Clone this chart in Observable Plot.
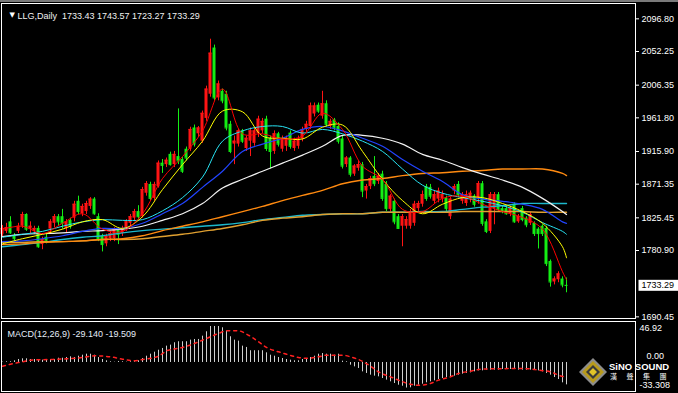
<!DOCTYPE html>
<html><head><meta charset="utf-8">
<script src="https://cdn.jsdelivr.net/npm/d3@7"></script>
<script src="https://cdn.jsdelivr.net/npm/@observablehq/plot@0.6"></script>
<style>
html,body{margin:0;padding:0;background:#000;overflow:hidden;}
#wrap{position:relative;width:678px;height:393px;background:#000;overflow:hidden;}
#wrap > svg{position:absolute;left:0;}
.topbar{position:absolute;left:0;top:0;width:678px;height:2px;background:#7a7a7a;}
</style></head><body><div id="wrap"><div class="topbar"></div></div>
<script>
// ---------- DATA ----------
const symbolTitle = "LLG,Daily";
const ohlcTitle = "1733.43 1743.57 1723.27 1733.29";
const macdTitle = "MACD(12,26,9) -29.140 -19.509";

const open = [1803,1807,1820,1801,1807,1814,1830,1810,1807,1811,
1789,1799,1810,1818,1827,1827,1811,1822,1825,1848,
1831,1834,1841,1851,1827,1800,1790,1797,1797,1810,
1804,1811,1818,1825,1834,1827,1859,1871,1852,1868,
1900,1898,1912,1898,1909,1905,1919,1919,1948,1940,
1930,1961,1994,2057,1989,1998,1994,1953,1926,1926,
1944,1920,1930,1927,1940,1944,1960,1934,1916,1940,
1919,1923,1941,1920,1923,1933,1946,1950,1967,1979,
1964,1981,1950,1959,1950,1933,1898,1907,1885,1893,
1898,1862,1868,1882,1875,1885,1871,1837,1848,1827,
1814,1814,1814,1818,1838,1844,1868,1867,1848,1851,
1851,1852,1827,1862,1871,1848,1845,1851,1855,1852,
1872,1820,1807,1838,1857,1838,1838,1831,1844,1820,
1838,1825,1818,1818,1810,1814,1811,1766,1738,1741,
1742,1733.43];
const high = [1815,1818,1827,1804,1818,1833,1831,1820,1814,1814,
1799,1803,1823,1830,1830,1837,1823,1825,1848,1855,
1844,1848,1853,1853,1831,1803,1803,1807,1812,1812,
1814,1823,1830,1837,1842,1867,1875,1874,1874,1903,
1905,1907,1915,1916,1974,1908,1922,1949,1952,1950,
1971,2005,2069,2061,2012,2001,1998,1957,1937,1946,
1946,1937,1948,1948,1964,1961,1964,1937,1944,1942,
1937,1937,1944,1934,1937,1949,1957,1982,1982,1982,
1998,1985,1960,1961,1955,1937,1909,1909,1898,1903,
1901,1871,1882,1909,1886,1889,1875,1857,1851,1830,
1830,1827,1837,1848,1848,1862,1871,1871,1862,1866,
1862,1855,1853,1871,1875,1860,1862,1862,1857,1875,
1875,1823,1860,1860,1860,1841,1841,1841,1846,1830,
1841,1827,1833,1820,1812,1816,1814,1768,1745,1752,
1745,1743.57];
const low = [1799,1804,1803,1794,1804,1811,1807,1804,1803,1784,
1782,1790,1804,1812,1814,1810,1805,1810,1820,1830,
1827,1830,1837,1829,1793,1779,1786,1793,1793,1789,
1800,1807,1814,1820,1823,1825,1855,1849,1848,1866,
1886,1894,1896,1894,1898,1886,1903,1916,1922,1935,
1927,1957,1990,1985,1985,1981,1944,1913,1898,1922,
1927,1916,1909,1923,1935,1940,1916,1892,1912,1922,
1915,1916,1919,1916,1919,1929,1942,1946,1963,1968,
1960,1949,1946,1944,1926,1892,1894,1881,1882,1889,
1853,1851,1864,1868,1871,1848,1834,1833,1816,1810,
1786,1810,1810,1814,1834,1840,1848,1851,1844,1846,
1846,1834,1823,1857,1853,1844,1841,1846,1840,1844,
1814,1804,1804,1816,1834,1831,1829,1827,1818,1818,
1820,1812,1815,1800,1783,1800,1759,1731,1734,1737,
1730,1723.27];
const close = [1811,1812,1805,1797,1814,1830,1810,1814,1811,1786,
1796,1794,1820,1827,1820,1818,1820,1814,1844,1834,
1841,1845,1851,1831,1796,1789,1800,1804,1810,1803,
1810,1820,1827,1834,1827,1864,1872,1852,1871,1900,
1897,1904,1898,1912,1903,1889,1907,1946,1926,1948,
1968,2001,2050,1989,2008,1985,1948,1916,1930,1944,
1930,1934,1944,1944,1960,1957,1920,1916,1940,1926,
1933,1934,1923,1930,1933,1946,1953,1978,1978,1971,
1981,1953,1957,1948,1930,1896,1907,1885,1896,1898,
1862,1868,1879,1872,1882,1852,1838,1855,1820,1811,
1827,1823,1834,1844,1845,1857,1852,1855,1857,1862,
1857,1838,1851,1868,1857,1857,1857,1859,1844,1872,
1818,1807,1857,1857,1837,1834,1831,1838,1820,1827,
1823,1816,1830,1804,1804,1804,1763,1738,1742,1749,
1734,1733.29];

// moving averages, read every 5 bars
const maIdx = [0,5,10,15,20,25,30,35,40,45,50,55,60,65,70,75,80,85,90,95,100,105,110,115,120,125,130,135,140,141];
const ma5   = [1810,1814,1804,1818,1831,1810,1807,1831,1879,1909,1944,2001,1940,1940,1933,1937,1968,1946,1896,1878,1837,1834,1852,1855,1844,1834,1826,1810,1752,1741];
const ma10  = [1790,1797,1803,1810,1820,1823,1811,1827,1864,1898,1930,1971,1970,1937,1934,1933,1949,1952,1916,1878,1849,1831,1844,1853,1853,1845,1834,1818,1786,1771];
const ma20  = [1799,1803,1807,1814,1820,1823,1822,1823,1835,1853,1881,1930,1944,1950,1950,1941,1946,1940,1930,1916,1892,1870,1859,1853,1848,1842,1833,1819,1807,1803];
const ma30  = [1793,1794,1797,1801,1807,1811,1811,1818,1831,1845,1867,1889,1916,1926,1934,1946,1950,1944,1934,1923,1905,1889,1875,1857,1851,1848,1844,1837,1820,1818];
const ma60  = [1800,1803,1804,1805,1807,1808,1810,1814,1822,1831,1845,1866,1878,1889,1900,1911,1923,1938,1938,1934,1926,1912,1904,1894,1885,1877,1867,1852,1834,1830];
const ma120 = [1789,1790,1792,1793,1794,1796,1797,1801,1808,1814,1820,1827,1834,1841,1849,1856,1863,1872,1877,1879,1883,1886,1887,1889,1890,1892,1892,1892,1886,1883];
const ma200 = [1792,1792,1793,1793,1794,1796,1796,1797,1800,1803,1807,1811,1816,1822,1825,1827,1830,1831,1831,1833,1833,1833,1833,1834,1834,1834,1834,1833,1833,1833];
const ma250 = [1786,1789,1792,1796,1799,1801,1805,1808,1810,1812,1814,1816,1819,1823,1826,1829,1830,1831,1831,1833,1833,1834,1834,1837,1840,1842,1845,1845,1845,1845];

// MACD histogram (one per bar) and signal line samples
const macdHist = [0.5,0.9,0.9,2.2,3.9,4.8,4.8,3.9,3.9,3.9,3.0,3.0,3.9,3.9,5.6,5.6,6.5,7.4,6.5,8.2,
9.5,10.8,10.8,9.5,6.5,3.9,2.2,0.9,0.4,1.3,0.9,0.4,0.9,0.9,2.2,5.2,8.2,10.8,13.4,16.0,
18.3,21.3,22.6,25.7,27.0,27.0,27.0,29.1,30.0,30.0,34.3,40.0,46.9,46.9,46.9,45.2,40.8,33.5,29.1,27.8,
21.3,19.6,15.3,15.3,15.3,15.3,12.6,9.5,8.2,6.5,5.2,3.9,3.0,2.2,2.2,3.9,5.2,6.5,8.2,10.8,
11.7,10.8,10.8,9.5,10.8,1.7,0.9,-3.5,-5.7,-7.8,-12.2,-14.3,-16.5,-17.8,-18.7,-20.9,-23.0,-25.2,-27.4,-29.6,
-30.9,-33.3,-33.0,-30.9,-29.6,-28.3,-26.5,-25.2,-23.9,-22.2,-20.9,-19.6,-18.7,-17.8,-16.5,-15.2,-14.3,-13.5,-12.2,-10.9,
-10.9,-10.0,-10.0,-10.0,-10.0,-9.1,-9.1,-9.1,-9.1,-10.0,-10.0,-10.0,-10.0,-10.0,-10.9,-12.2,-14.3,-16.5,-19.6,-22.2,
-26.5,-29.14];
const sigIdx  = [0,2,5,7,12,16,20,23,27,30,33,35,39,41,45,48,51,54,56,59,61,64,66,69,71,74,76,79,81,85,87,89,92,94,97,99,102,104,107,109,112,114,117,119,122,124,127,129,132,134,137,139,141];
const sigVals = [-4.8,-2.2,0.9,3.0,3.9,4.8,6.5,8.7,7.4,4.3,2.2,3.9,8.2,15.2,19.6,24.8,31.3,37.8,41.3,41.3,37.0,27.0,19.6,13.9,10.8,6.5,5.6,7.4,9.5,9.5,7.4,3.9,-4.8,-12.2,-18.7,-23.0,-28.3,-29.6,-27.4,-23.0,-18.7,-14.3,-11.3,-9.1,-8.3,-8.3,-7.8,-7.8,-8.3,-10.0,-12.2,-16.5,-19.509];

const priceTicks = [2096.80, 2052.25, 2006.35, 1961.80, 1915.90, 1871.35, 1825.45, 1780.90, 1690.45];
const macdTicks = [46.92, 0, -33.308];
const macdTickText = ["46.92", "0.00", "-33.308"];

// ---------- DRAW ----------
const font = "'Liberation Sans', Arial, sans-serif";
const upColor = "#ff1414", downColor = "#14ee14";
const X = {domain: [-0.25, 158.25], axis: null};
const candles = close.map((c, i) => ({i, o: open[i], h: high[i], l: low[i], c}));
const ups = candles.filter(d => d.c >= d.o);
const downs = candles.filter(d => d.c < d.o);
const maSeries = [
  {vals: ma250, color: "#1cb8cc", w: 1.4},
  {vals: ma200, color: "#e0a030", w: 1.4},
  {vals: ma120, color: "#ff8a10", w: 1.4},
  {vals: ma60,  color: "#f2f2f2", w: 1.2},
  {vals: ma30,  color: "#2244ff", w: 1.2},
  {vals: ma20,  color: "#28e4f4", w: 1},
  {vals: ma10,  color: "#ffff00", w: 1},
  {vals: ma5,   color: "#ff0000", w: 1}
];
const lastClose = close[close.length - 1];
const wrap = document.getElementById("wrap");

const candleMarks = (data, col) => [
  Plot.ruleX(data, {x: "i", y1: "l", y2: "h", stroke: col}),
  Plot.rect(data, {x1: d => d.i - 0.375, x2: d => d.i + 0.375, y1: "o", y2: "c", fill: col}),
  Plot.ruleY(data, {y: "c", x1: d => d.i - 0.375, x2: d => d.i + 0.375, stroke: col})
];

const main = Plot.plot({
  width: 678, height: 321,
  marginLeft: 1, marginRight: 43, marginTop: 3, marginBottom: 3,
  style: {background: "transparent", color: "#fff", fontFamily: font, fontSize: "9px"},
  x: X,
  y: {domain: [1688.2, 2117.7], axis: null},
  marks: [
    ...candleMarks(ups, upColor),
    ...candleMarks(downs, downColor),
    ...maSeries.map(s => Plot.line(maIdx, {x: d => d, y: (d, j) => s.vals[j], stroke: s.color, strokeWidth: s.w, curve: "catmull-rom"})),
    Plot.frame({stroke: "#fff"}),
    Plot.axisY(priceTicks, {anchor: "right", tickSize: 3, tickPadding: 3, tickFormat: d => d.toFixed(2), label: null}),
    Plot.text([lastClose], {y: d => d, frameAnchor: "right", dx: 6, textAnchor: "start", fill: "#000", className: "curprice", text: d => d.toFixed(2)}),
    Plot.text(["\u25BC"], {frameAnchor: "top-left", dx: 8, dy: 9, fontSize: 7, fill: "#fff", fontFamily: "DejaVu Sans"}),
    Plot.text([symbolTitle + "\u00a0\u00a0" + ohlcTitle], {frameAnchor: "top-left", dx: 16, dy: 9, textAnchor: "start", fill: "#f0f0f0"})
  ]
});
main.style.top = "0px";
wrap.appendChild(main);

// white box behind current price label
const t = main.querySelector(".curprice text");
if (t) {
  const bb = t.getBBox();
  const r = document.createElementNS("http://www.w3.org/2000/svg", "rect");
  r.setAttribute("x", bb.x - 3);
  r.setAttribute("y", bb.y - 0.5);
  r.setAttribute("width", bb.width + 8);
  r.setAttribute("height", bb.height + 1);
  r.setAttribute("fill", "#fff");
  const tr = t.getAttribute("transform");
  if (tr) r.setAttribute("transform", tr);
  t.parentNode.insertBefore(r, t);
}

const histRows = macdHist.map((v, i) => ({i, v}));
const sigRows = sigIdx.map((i, j) => ({i, v: sigVals[j]}));
const macdDy = [2, -6, -2.5];
const macdDx = [0, 7, 0];

const macd = Plot.plot({
  width: 678, height: 72,
  marginLeft: 1, marginRight: 43, marginTop: 0, marginBottom: 2,
  style: {background: "transparent", color: "#fff", fontFamily: font, fontSize: "9px"},
  x: X,
  y: {domain: [-37.8, 53.4], axis: null},
  marks: [
    Plot.ruleX(histRows, {x: "i", y1: 0, y2: "v", stroke: "#cfcfcf"}),
    Plot.line(sigRows, {x: "i", y: "v", stroke: "#ff2020", strokeDasharray: "3,4", curve: "monotone-x"}),
    Plot.frame({stroke: "#fff"}),
    ...macdTicks.map((v, k) => Plot.axisY([v], {anchor: "right", tickSize: 0, tickPadding: 4, dy: macdDy[k], dx: macdDx[k], tickFormat: () => macdTickText[k], label: null})),
    Plot.text([macdTitle], {frameAnchor: "top-left", dx: 6, dy: 9, textAnchor: "start", fill: "#e4ecf8"})
  ]
});
macd.style.top = "321px";
wrap.appendChild(macd);

// watermark logo
const logo = document.createElementNS("http://www.w3.org/2000/svg", "svg");
logo.setAttribute("width", "100");
logo.setAttribute("height", "40");
logo.style.position = "absolute";
logo.style.left = "576px";
logo.style.top = "353px";
logo.innerHTML = `
  <polygon points="17,5 31,19 17,33 3,19" fill="#8c8c8c"/>
  <polygon points="17,8 28,19 17,30 6,19" fill="#b89a1c"/>
  <polygon points="17,12 24,19 17,26 10,19" fill="#3a3a3a"/>
  <polygon points="17,15 21,19 17,23 13,19" fill="#e2c428"/>
  <text x="33" y="17" font-size="9.5" font-weight="bold" fill="#fff" font-family="'Liberation Sans', Arial, sans-serif">SiNO SOUND</text>
  <text x="34" y="25.5" font-size="7" fill="#fff" letter-spacing="9.5" font-family="'Noto Sans CJK TC', sans-serif">漢聲集團</text>`;
wrap.appendChild(logo);
</script></body></html>
